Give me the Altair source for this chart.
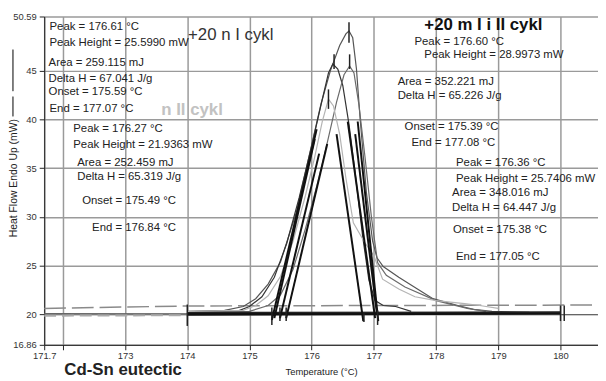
import altair as alt
import pandas as pd

FONT = "Liberation Sans"

# ---- DSC curves (Temperature °C, Heat flow mW) ----
A_T = [174.0, 174.6, 174.9, 175.1, 175.3, 175.5, 175.75, 176.0, 176.15, 176.3, 176.45, 176.55, 176.6,
       176.66, 176.72, 176.78, 176.88, 176.98, 177.05, 177.15, 177.4, 177.7, 177.95, 178.35, 178.6, 178.9, 179.5]
A_V = [20.3, 20.4, 20.8, 21.6, 23.1, 25.4, 30.4, 37.4, 41.6, 45.0, 47.6, 48.8, 49.1,
       48.4, 45.2, 40.0, 32.5, 27.5, 25.8, 24.9, 23.8, 22.6, 21.6, 20.9, 20.5, 20.3, 20.2]

B_T = [174.0, 174.8, 175.0, 175.2, 175.4, 175.6, 175.8, 176.0, 176.15, 176.27, 176.34, 176.42, 176.5,
       176.6, 176.7, 176.82, 176.92, 177.02, 177.15, 177.35, 177.6]
B_V = [20.2, 20.3, 20.8, 21.8, 23.8, 27.3, 32.0, 37.3, 41.5, 44.8, 45.7, 45.2, 43.5,
       39.5, 34.5, 28.0, 23.5, 21.4, 20.9, 20.8, 20.3]

C_T = [174.0, 175.0, 175.3, 175.5, 175.7, 175.9, 176.1, 176.25, 176.4, 176.52, 176.61, 176.68, 176.76,
       176.86, 176.96, 177.06, 177.2, 177.5, 178.0, 178.5, 178.8]
C_V = [20.2, 20.3, 20.9, 22.0, 24.6, 28.8, 33.6, 37.6, 41.8, 44.6, 45.5, 44.8, 41.5,
       36.0, 30.0, 25.3, 24.0, 22.8, 21.4, 20.6, 20.3]

D_T = [174.0, 174.9, 175.1, 175.3, 175.5, 175.7, 175.9, 176.05, 176.17, 176.27, 176.35, 176.45, 176.55,
       176.67, 176.85, 177.0, 177.14, 177.4, 177.66, 178.0, 178.46, 178.7, 179.0]
D_V = [20.3, 20.4, 20.9, 21.9, 23.9, 27.5, 32.2, 36.2, 39.8, 42.1, 41.4, 38.5, 34.0,
       29.4, 27.4, 26.0, 23.6, 22.6, 21.8, 21.4, 21.1, 20.9, 20.6]

curve_names = ["A", "B", "C", "D"]
curve_colors = ["#555555", "#333333", "#6a6a6a", "#b4b4b4"]
curve_T = [A_T, B_T, C_T, D_T]
curve_V = [A_V, B_V, C_V, D_V]

# ---- baselines ----
base_dash_T = [171.7, 174.0, 180.6]
base_dash_V = [20.6, 20.85, 20.95]
base_gray_T = [171.7, 180.6]
base_gray_V = [20.05, 20.0]
base_light_T = [171.7, 174.0]
base_light_V = [19.85, 19.9]
base_black_T = [174.0, 180.0]
base_black_V = [20.0, 20.12]
base_black2_T = [174.0, 180.0]
base_black2_V = [20.18, 20.22]

# ---- tangent lines (T1, V1, T2, V2) ----
tan_T1 = [175.36, 175.40, 175.49, 175.59, 176.40, 176.58, 176.74, 176.70]
tan_V1 = [19.4, 19.6, 19.6, 19.6, 38.5, 39.8, 39.8, 38.5]
tan_T2 = [176.08, 176.05, 176.12, 176.25, 176.83, 177.02, 177.07, 177.05]
tan_V2 = [39.0, 38.0, 36.5, 37.5, 19.3, 19.6, 19.3, 20.0]

# ---- vertical markers ----
mark_T = [174.0, 180.0, 180.06, 175.36, 175.49, 175.59, 176.84, 177.06, 176.60, 176.36, 176.61, 176.27]
mark_V1 = [21.0, 20.9, 20.9, 20.7, 20.7, 20.7, 20.1, 20.4, 50.0, 46.7, 46.7, 43.1]
mark_V2 = [18.8, 19.3, 19.3, 18.9, 19.3, 19.3, 19.2, 18.9, 47.9, 45.2, 45.2, 41.1]

# ---- annotations ----
ann_text = [
    "Peak = 176.61 °C", "Peak Height = 25.5990 mW", "Area = 259.115 mJ", "Delta H = 67.041 J/g",
    "Onset = 175.59 °C", "End = 177.07 °C",
    "Peak = 176.27 °C", "Peak Height = 21.9363 mW", "Area = 252.459 mJ", "Delta H = 65.319 J/g",
    "Onset = 175.49 °C", "End = 176.84 °C",
    "Peak = 176.60 °C", "Peak Height = 28.9973 mW", "Area = 352.221 mJ", "Delta H = 65.226 J/g",
    "Onset = 175.39 °C", "End = 177.08 °C",
    "Peak = 176.36 °C", "Peak Height = 25.7406 mW", "Area = 348.016 mJ", "Delta H = 64.447 J/g",
    "Onset = 175.38 °C", "End = 177.05 °C",
]
ann_T = [171.786, 171.786, 171.77, 171.77, 171.77, 171.786,
         172.167, 172.167, 172.231, 172.231, 172.31, 172.47,
         177.652, 177.811, 177.382, 177.382, 177.493, 177.605,
         178.32, 178.32, 178.257, 178.257, 178.272, 178.32]
ann_V = [49.52, 47.90, 45.76, 44.14, 42.82, 41.09,
         39.06, 37.43, 35.50, 34.07, 31.64, 28.89,
         48.0, 46.68, 43.83, 42.41, 39.26, 37.63,
         35.50, 33.87, 32.45, 30.92, 28.69, 25.84]

big_text = ["+20 n I cykl", "n II cykl", "+20 m I i II cykl"]
big_T = [174.012, 173.582, 177.811]
big_V = [48.71, 40.99, 49.73]
big_color = ["#333333", "#c2c2c2", "#111111"]
big_weight = ["normal", "bold", "bold"]
big_size = [17, 17, 17]

title_text = ["Cd-Sn eutectic"]
title_T = [172.024]
title_V = [13.71]

x_ticks = [171.7, 172, 173, 174, 175, 176, 177, 178, 179, 180]
y_ticks = [16.86, 20, 25, 30, 35, 40, 45, 50.59]

xs = alt.Scale(domain=[171.7, 180.603], nice=False, zero=False)
ys = alt.Scale(domain=[16.86, 50.59], nice=False, zero=False)

# ---- frames ----
rows = []
for n, c, T, V in zip(curve_names, curve_colors, curve_T, curve_V):
    for i, (t, v) in enumerate(zip(T, V)):
        rows.append({"curve": n, "color": c, "i": i, "T": t, "V": v})
curves_df = pd.DataFrame(rows)

def line_df(T, V):
    return pd.DataFrame({"T": T, "V": V, "i": list(range(len(T)))})

tan_df = pd.DataFrame({"T1": tan_T1, "V1": tan_V1, "T2": tan_T2, "V2": tan_V2})
mark_df = pd.DataFrame({"T": mark_T, "V1": mark_V1, "V2": mark_V2})
ann_df = pd.DataFrame({"text": ann_text, "T": ann_T, "V": ann_V})
big_df = pd.DataFrame({"text": big_text, "T": big_T, "V": big_V, "color": big_color})
title_df = pd.DataFrame({"text": title_text, "T": title_T, "V": title_V})

x_axis = alt.Axis(
    values=x_ticks,
    labelExpr="datum.value == 172 ? '' : format(datum.value, '.5~g')",
    grid=True, gridColor="#9a9a9a", gridWidth=1.5, domainColor="#222", tickColor="#222",
    tickSize=5, labelFontSize=9.5, labelColor="#333", labelFont=FONT, labelPadding=1,
    labelFlush=False, labelOverlap=False,
    title="Temperature (°C)", titleFont=FONT, titleFontSize=9.5, titleFontWeight="normal",
    titleColor="#222", titleX=280, titleY=27, titleAlign="center", titleBaseline="middle",
)
y_axis = alt.Axis(
    values=y_ticks, labelExpr="format(datum.value, '.5~g')",
    grid=True, gridColor="#9a9a9a", gridWidth=1.5,
    domainColor="#222", tickColor="#222", tickSize=5, labelFontSize=9.5, labelColor="#333",
    labelFont=FONT, labelPadding=3, labelOverlap=False,
    title="Heat Flow Endo Up (mW)", titleFont=FONT, titleFontSize=10.5, titleFontWeight="normal",
    titleColor="#222", titleX=-31, titleY=163, titleAlign="center", titleBaseline="middle",
)

X = lambda f="T": alt.X(f, type="quantitative", scale=xs, axis=x_axis)
Y = lambda f="V": alt.Y(f, type="quantitative", scale=ys, axis=y_axis)

gray_layer = alt.Chart(line_df(base_gray_T, base_gray_V)).mark_line(
    color="#666", strokeWidth=1.5).encode(x=X(), y=Y(), order="i:Q")

dash_layer = alt.Chart(line_df(base_dash_T, base_dash_V)).mark_line(
    color="#8a8a8a", strokeWidth=1.5, strokeDash=[22, 6]).encode(x=X(), y=Y(), order="i:Q")
light_layer = alt.Chart(line_df(base_light_T, base_light_V)).mark_line(
    color="#aaaaaa", strokeWidth=2, strokeDash=[12, 6]).encode(x=X(), y=Y(), order="i:Q")

curve_layer = alt.Chart(curves_df).mark_line(strokeWidth=1.2).encode(
    x=X(), y=Y(), detail="curve:N", order="i:Q",
    color=alt.Color("color:N", scale=None))

black_layer = alt.Chart(line_df(base_black_T, base_black_V)).mark_line(
    color="#111", strokeWidth=3).encode(x=X(), y=Y(), order="i:Q")
black2_layer = alt.Chart(line_df(base_black2_T, base_black2_V)).mark_line(
    color="#222", strokeWidth=1.2).encode(x=X(), y=Y(), order="i:Q")

tan_layer = alt.Chart(tan_df).mark_rule(color="#111", strokeWidth=2).encode(
    x=X("T1"), y=Y("V1"), x2="T2:Q", y2="V2:Q")

mark_layer = alt.Chart(mark_df).mark_rule(color="#222", strokeWidth=1.5).encode(
    x=X("T"), y=Y("V1"), y2="V2:Q")

ann_layer = alt.Chart(ann_df).mark_text(
    align="left", baseline="middle", font=FONT, fontSize=11.5, color="#222").encode(
    x=X(), y=Y(), text="text:N")

big_layers = []
for k in range(len(big_text)):
    big_layers.append(
        alt.Chart(big_df.iloc[[k]]).mark_text(
            align="left", baseline="middle", font=FONT, fontSize=big_size[k],
            fontWeight=big_weight[k], color=big_color[k]).encode(x=X(), y=Y(), text="text:N"))

title_layer = alt.Chart(title_df).mark_text(
    align="left", baseline="alphabetic", font=FONT, fontSize=17, fontWeight="bold",
    color="#222").encode(x=X(), y=Y(), text="text:N")

legend_df = pd.DataFrame({"k": [0, 1]})
legend_rules = alt.Chart(legend_df).mark_rule(color="#555", strokeWidth=1).encode(
    x=alt.value(-31.6), y=alt.value(33.5), y2=alt.value(75.5))
legend_rules2 = alt.Chart(legend_df).mark_rule(color="#555", strokeWidth=1).encode(
    x=alt.value(-31.6), y=alt.value(81), y2=alt.value(101))

chart = alt.layer(
    gray_layer, dash_layer, light_layer, curve_layer, black_layer, black2_layer,
    tan_layer, mark_layer, ann_layer, *big_layers, title_layer, legend_rules, legend_rules2,
).properties(
    width=560, height=332,
    autosize=alt.AutoSizeParams(type="none"),
    padding={"left": 36.6, "top": 6.5, "right": 0, "bottom": 34.5},
    background="white",
).configure_view(stroke=None)

chart.save("out.html", embed_options={"renderer": "svg", "actions": False})
